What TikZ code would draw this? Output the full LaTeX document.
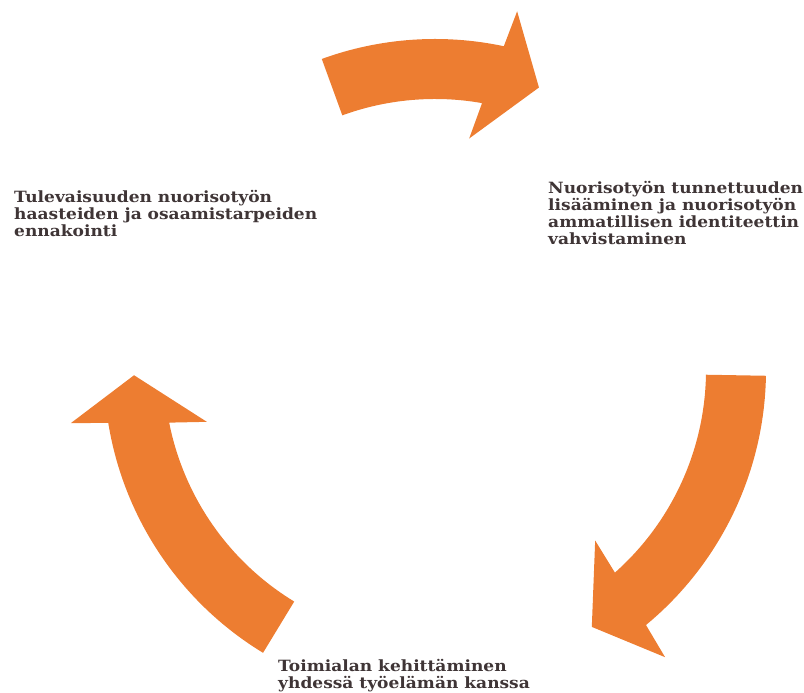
\documentclass[tikz,border=0pt]{standalone}
\usepackage{fontspec}
\newfontfamily\cyclabelfont[FakeStretch=1.1]{DejaVu Serif}
\definecolor{cycorange}{HTML}{ED7D31}
\definecolor{cyctext}{HTML}{3F3536}
\tikzset{cyclabel/.style={font=\cyclabelfont\bfseries\fontsize{15.5}{17}\selectfont,
  text=cyctext,align=left,inner sep=0pt,anchor=north west}}
\begin{document}
\begin{tikzpicture}[x=1pt,y=1pt]
	\useasboundingbox (0,0) rectangle (804,693);
	\def\mycycx{435}\def\mycycy{323}
	\def\mycycri{271}\def\mycycro{331}
	% the three curved arrows, tail angle / tip angle
	\begin{scope}[shift={(\mycycx,\mycycy)}]
		\foreach \mycyca/\mycyct in {110/69.8,-1/-58.6,238.7/181}{
			\pgfmathsetmacro\mycycoj{\mycyct+8.2}
			\pgfmathsetmacro\mycycij{\mycyct+10.2}
			\pgfmathsetmacro\mycycbo{\mycyct+7.3}
			\pgfmathsetmacro\mycycbi{\mycyct+11.8}
			\fill[cycorange] (\mycyca:\mycycro pt)
			arc[start angle=\mycyca,end angle=\mycycoj,radius=\mycycro pt]
			-- (\mycycbo:368pt) -- (\mycyct:301pt) -- (\mycycbi:234pt) -- (\mycycij:\mycycri pt)
			arc[start angle=\mycycij,end angle=\mycyca,radius=\mycycri pt] -- cycle;
		}
	\end{scope}
	\node[cyclabel] (future) at (14,503) {Tulevaisuuden nuorisotyön\\haasteiden ja osaamistarpeiden\\ennakointi};
	\node[cyclabel] (identity) at (548,512) {Nuorisotyön tunnettuuden\\lisääminen ja nuorisotyön\\ammatillisen identiteettin\\vahvistaminen};
	\node[cyclabel] (industry) at (278,34) {Toimialan kehittäminen\\yhdessä työelämän kanssa};
\end{tikzpicture}
\end{document}
